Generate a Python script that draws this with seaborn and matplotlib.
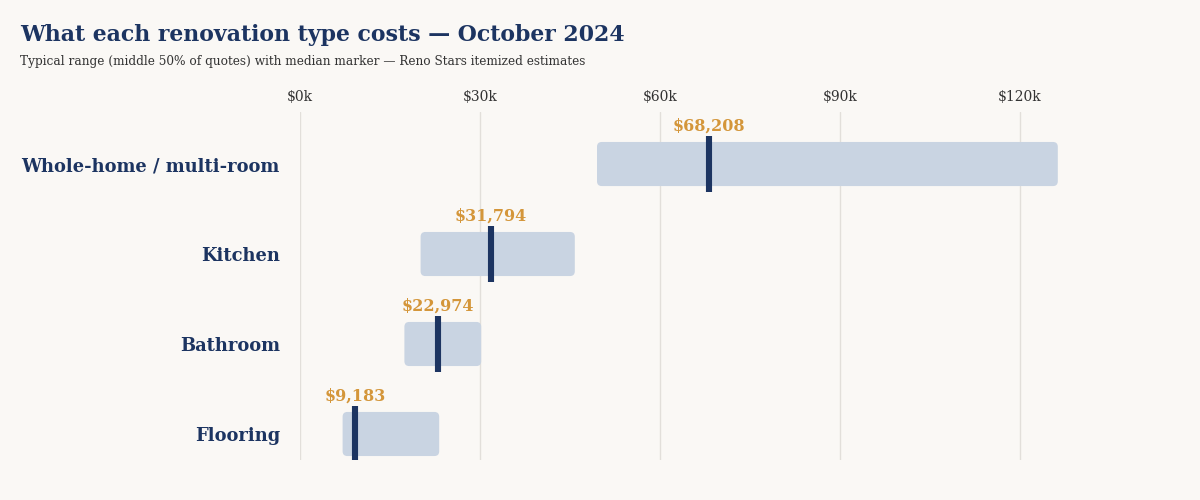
import matplotlib
matplotlib.use("Agg")
import matplotlib.pyplot as plt
from matplotlib.patches import FancyBboxPatch
import seaborn as sns
import pandas as pd

# data (in $k)
categories = ["Whole-home / multi-room", "Kitchen", "Bathroom", "Flooring"]
q1 = [49.5, 20.1, 17.4, 7.1]
q3 = [126.3, 45.8, 30.2, 23.2]
medians = [68208, 31794, 22974, 9183]
tick_vals = [0, 30, 60, 90, 120]
tick_labels = ["$0k", "$30k", "$60k", "$90k", "$120k"]

df = pd.DataFrame({"cat": categories, "q1": q1, "q3": q3, "median": medians})
df["median_k"] = df["median"] / 1000

bg = "#faf8f5"
navy = "#1c3461"
gold = "#d4963a"
bar_col = "#c9d4e2"

sns.set_theme(style="white")
plt.rcParams["font.family"] = ["DejaVu Serif", "Liberation Serif"]
plt.rcParams["figure.facecolor"] = bg
plt.rcParams["axes.facecolor"] = bg

fig = plt.figure(figsize=(12, 5), dpi=100)
ax = fig.add_axes([0.25, 0.08, 0.65, 0.696])

ypos = list(range(len(df)))
bars = ax.barh(ypos, df["q3"] - df["q1"], left=df["q1"], height=0.49, color=bar_col)
# swap plain bars for rounded ones (6 px per $k, 90 px per row)
for b in bars:
    x, y, w, h = b.get_x(), b.get_y(), b.get_width(), b.get_height()
    b.set_visible(False)
    ax.add_patch(FancyBboxPatch((x, y), w, h,
                                boxstyle="round,pad=0,rounding_size=0.8",
                                mutation_aspect=6 / 90, facecolor=bar_col,
                                edgecolor="none", zorder=2))

ax.vlines(df["median_k"], [p - 0.31 for p in ypos], [p + 0.31 for p in ypos],
          color=navy, linewidth=4.4, zorder=3)

for p, m, mk in zip(ypos, df["median"], df["median_k"]):
    ax.text(mk, p - 0.42, f"${m:,}", ha="center", va="center", color=gold,
            fontsize=11.5, fontweight="bold", zorder=4)

ax.set_xlim(0, 130)
ax.set_ylim(3.289, -0.578)
ax.set_xticks(tick_vals)
ax.set_xticklabels(tick_labels)
ax.xaxis.tick_top()
ax.tick_params(axis="x", length=0, pad=5.5, labelsize=10, labelcolor="#333333")
ax.set_yticks(ypos)
ax.set_yticklabels(categories)
ax.tick_params(axis="y", length=0, pad=14.5, labelsize=12.9, labelcolor=navy)
for lab in ax.get_yticklabels():
    lab.set_fontweight("bold")
ax.grid(axis="x", color="#e2dfda", linewidth=1, zorder=0)
ax.set_axisbelow(True)
sns.despine(ax=ax, left=True, bottom=True, top=True, right=True)

fig.text(0.017, 0.93, "What each renovation type costs — October 2024",
         fontsize=15.8, fontweight="bold", color=navy, va="center", ha="left")
fig.text(0.017, 0.878, "Typical range (middle 50% of quotes) with median marker — Reno Stars itemized estimates",
         fontsize=8.7, color="#333333", va="center", ha="left")

fig.savefig("out.png", dpi=100, facecolor=bg)
